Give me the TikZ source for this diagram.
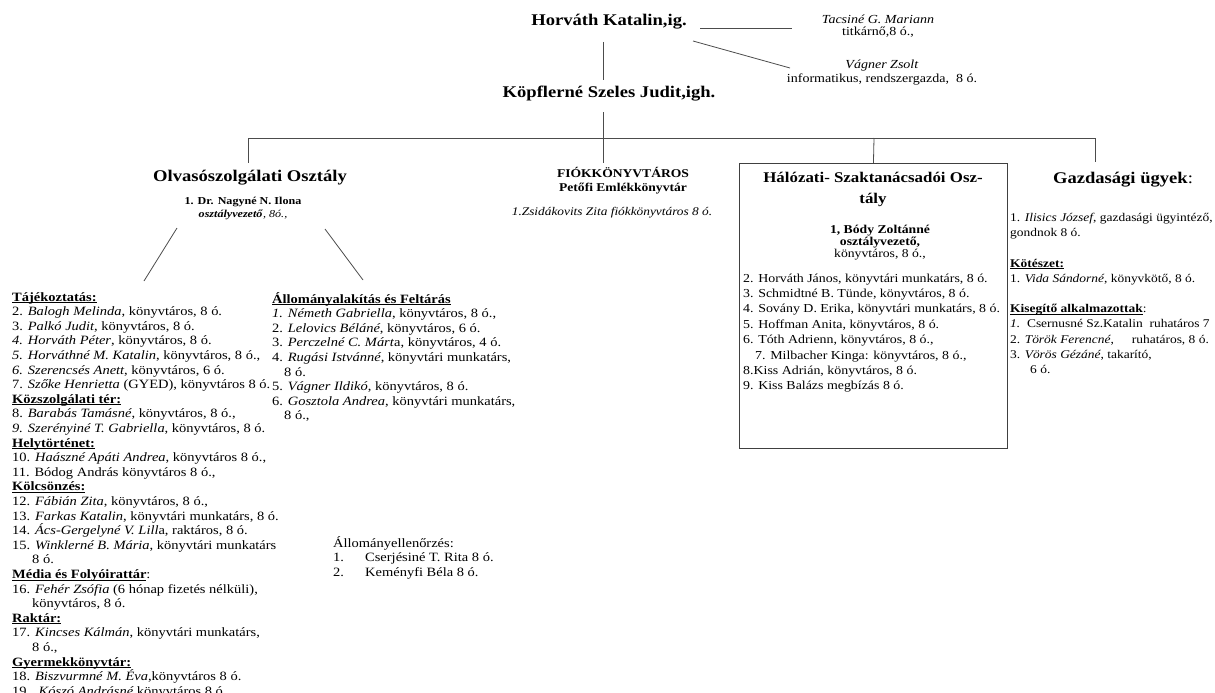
\documentclass[tikz,border=0pt]{standalone}
\usepackage{fontspec}
\setmainfont{Liberation Serif}[FakeStretch=1.14]
\newcommand{\ulin}[1]{\setbox0\hbox{#1}\rlap{\rule[-1.8pt]{\wd0}{0.7pt}}\box0}
\begin{document}
\begin{tikzpicture}[x=1pt,y=-1pt,
  conn/.style={draw=black!70, line width=0.8pt},
  txt/.style={inner sep=0pt, align=left, font=\fontsize{12.7}{14.6}\selectfont},
  ttl/.style={inner sep=0pt, align=center, font=\fontsize{16.3}{18}\selectfont\bfseries},
  hbox/.style={draw=black!75, line width=0.9pt, inner sep=0pt, minimum width=268pt, minimum height=285pt}]
\useasboundingbox (0,0) rectangle (1215,693);

% top
\node[ttl] (hk) at (609,22) {Horváth Katalin,ig.};
\node[ttl] (kj) at (609,94) {Köpflerné Szeles Judit,igh.};
\node[txt, align=center, font=\fontsize{12.3}{12.5}\selectfont] (tm) at (878,26) {\textit{Tacsiné G. Mariann}\\titkárnő,8 ó.,};
\node[txt, align=center, font=\fontsize{12.3}{14}\selectfont] (vz) at (882,73) {\textit{Vágner Zsolt}\\informatikus, rendszergazda,\ \ 8 ó.};

\coordinate (hkd) at (603,42);
\coordinate (kju) at (603,80);
\coordinate (hkr) at (700,28);
\coordinate (tml) at (792,28);
\coordinate (hkq) at (693,41);
\coordinate (vzl) at (790,68);
\coordinate (kjd) at (603,112);
\coordinate (fku) at (603,163);
\coordinate (hl0) at (248,138);
\coordinate (hl1) at (1095,138);
\coordinate (hlm) at (874,138);
\coordinate (oou) at (248,163);
\coordinate (guu) at (1095,162);
\coordinate (nl1) at (177,228);
\coordinate (nl2) at (144,281);
\coordinate (nr1) at (325,229);
\coordinate (nr2) at (363,280);

\draw[conn] (hkd) -- (kju);
\draw[conn] (hkr) -- (tml);
\draw[conn] (hkq) -- (vzl);
\draw[conn] (kjd) -- (fku);
\draw[conn] (hl0) -- (hl1);
\draw[conn] (hl0) -- (oou);
\draw[conn] (hl1) -- (guu);

% Olvasoszolgalati
\node[ttl] (oo) at (250,178) {Olvasószolgálati Osztály};
\node[txt, align=center, font=\fontsize{10.6}{13}\selectfont] (nn) at (243,208) {\textbf{1. Dr. Nagyné N. Ilona}\\\textbf{\textit{osztályvezető}}\textit{, 8ó.,}};
\draw[conn] (nl1) -- (nl2);
\draw[conn] (nr1) -- (nr2);

\node[txt, anchor=north west] (lc) at (12,292) {%
\ulin{\textbf{Tájékoztatás:}}\\
2. \textit{Balogh Melinda}, könyvtáros, 8 ó.\\
3. \textit{Palkó Judit}, könyvtáros, 8 ó.\\
\textit{4. Horváth Péter}, könyvtáros, 8 ó.\\
\textit{5. Horváthné M. Katalin}, könyvtáros, 8 ó.,\\
\textit{6. Szerencsés Anett}, könyvtáros, 6 ó.\\
7. \textit{Szőke Henrietta} (GYED), könyvtáros 8 ó.\\
\ulin{\textbf{Közszolgálati tér:}}\\
8. \textit{Barabás Tamásné}, könyvtáros, 8 ó.,\\
\textit{9. Szerényiné T. Gabriella}, könyvtáros, 8 ó.\\
\ulin{\textbf{Helytörténet:}}\\
10. \textit{Haászné Apáti Andrea}, könyvtáros 8 ó.,\\
11. Bódog András könyvtáros 8 ó.,\\
\ulin{\textbf{Kölcsönzés:}}\\
12. \textit{Fábián Zita}, könyvtáros, 8 ó.,\\
13. \textit{Farkas Katalin}, könyvtári munkatárs, 8 ó.\\
14. \textit{Ács-Gergelyné V. Lill}a, raktáros, 8 ó.\\
15. \textit{Winklerné B. Mária}, könyvtári munkatárs\\
\hspace*{20pt}8 ó.\\
\ulin{\textbf{Média és Folyóirattár}}:\\
16. \textit{Fehér Zsófia} (6 hónap fizetés nélküli),\\
\hspace*{20pt}könyvtáros, 8 ó.\\
\ulin{\textbf{Raktár:}}\\
17. \textit{Kincses Kálmán}, könyvtári munkatárs,\\
\hspace*{20pt}8 ó.,\\
\ulin{\textbf{Gyermekkönyvtár:}}\\
18. \textit{Biszvurmné M. Éva},könyvtáros 8 ó.\\
19.. \textit{Kószó Andrásné},könyvtáros 8 ó.,};

\node[txt, anchor=north west] (mc) at (272,292) {%
\ulin{\textbf{Állományalakítás és Feltárás}}\\
\textit{1. Németh Gabriella}, könyvtáros, 8 ó.,\\
2. \textit{Lelovics Béláné}, könyvtáros, 6 ó.\\
3. \textit{Perczelné C. Márt}a, könyvtáros, 4 ó.\\
4. \textit{Rugási Istvánné}, könyvtári munkatárs,\\
\hspace*{12pt}8 ó.\\
5. \textit{Vágner Ildikó}, könyvtáros, 8 ó.\\
6. \textit{Gosztola Andrea}, könyvtári munkatárs,\\
\hspace*{12pt}8 ó.,};

\node[txt, anchor=north west] (ae) at (333,536) {%
Állományellenőrzés:\\
\makebox[32pt][l]{1.}Cserjésiné T. Rita 8 ó.\\
\makebox[32pt][l]{2.}Keményfi Béla 8 ó.};

% Fiok
\node[txt, align=center, font=\fontsize{11.9}{14}\selectfont\bfseries] (fk) at (623,181) {FIÓKKÖNYVTÁROS\\Petőfi Emlékkönyvtár};
\node[txt, font=\fontsize{11.7}{14}\selectfont] (zs) at (612,213) {\textit{1.Zsidákovits Zita fiókkönyvtáros 8 ó.}};

% Halozati box
\node[hbox, anchor=north west] (hb) at (739,163) {};
\draw[conn] (hlm) -- (hb.north);
\node[ttl, font=\fontsize{14.8}{21}\selectfont\bfseries] (ht) at (873,189) {Hálózati- Szaktanácsadói Osz-\\tály};
\node[txt, align=center, font=\fontsize{12}{12}\selectfont] (bz) at (880,243) {\textbf{1, Bódy Zoltánné}\\\textbf{osztályvezető,}\\könyvtáros, 8 ó.,};
\node[txt, anchor=north west, font=\fontsize{12.2}{15.4}\selectfont] (hl) at (743,273.5) {%
2. Horváth János, könyvtári munkatárs, 8 ó.\\
3. Schmidtné B. Tünde, könyvtáros, 8 ó.\\
4. Sovány D. Erika, könyvtári munkatárs, 8 ó.\\
5. Hoffman Anita, könyvtáros, 8 ó.\\
6. Tóth Adrienn, könyvtáros, 8 ó.,\\
\hspace*{12pt}7. Milbacher Kinga: könyvtáros, 8 ó.,\\
8.Kiss Adrián, könyvtáros, 8 ó.\\
9. Kiss Balázs megbízás 8 ó.};

% Gazdasagi
\node[ttl] (gu) at (1123,180) {Gazdasági ügyek\textmd{:}};
\node[txt, anchor=north west, font=\fontsize{11.8}{15.2}\selectfont] (gl) at (1010,213) {%
1. \textit{Ilisics József}, gazdasági ügyintéző,\\
gondnok 8 ó.\\[15.2pt]
\ulin{\textbf{Kötészet:}}\\
1. \textit{Vida Sándorné}, könyvkötő, 8 ó.\\[15.2pt]
\ulin{\textbf{Kisegítő alkalmazottak}}:\\
\textit{1.}\ \ Csernusné Sz.Katalin\ \ ruhatáros 7\\
2. \textit{Török Ferencné},\hspace{18pt}ruhatáros, 8 ó.\\
3. \textit{Vörös Gézáné}, takarító,\\
\hspace*{20pt}6 ó.};
\end{tikzpicture}
\end{document}
